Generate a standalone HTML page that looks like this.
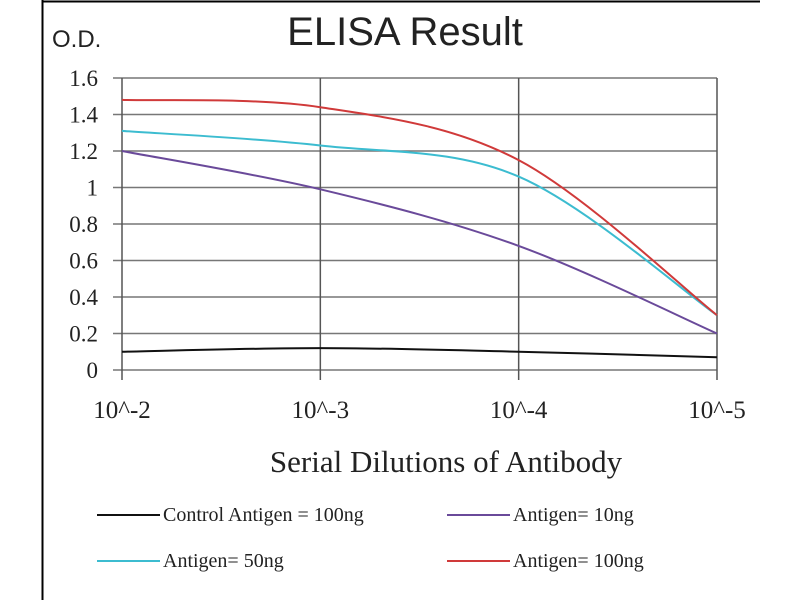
<!DOCTYPE html>
<html><head><meta charset="utf-8"><style>body{margin:0;background:#fff}svg{display:block}</style></head>
<body>
<svg id="chart" width="800" height="600" xmlns="http://www.w3.org/2000/svg">
<rect width="800" height="600" fill="#fff"/>
<line x1="42.5" y1="0" x2="42.5" y2="600" stroke="#000" stroke-width="2"/>
<line x1="42" y1="1.5" x2="760" y2="1.5" stroke="#000" stroke-width="2"/>
<text x="52" y="47" font-family="Liberation Sans, sans-serif" font-size="24" fill="#222">O.D.</text>
<text x="405" y="45" text-anchor="middle" font-family="Liberation Sans, sans-serif" font-size="40" fill="#222">ELISA Result</text>
<g id="grid"></g><g id="series"></g>
<text x="446" y="472" text-anchor="middle" font-family="Liberation Serif, serif" font-size="31" fill="#222">Serial Dilutions  of Antibody</text>
<g id="legend" font-family="Liberation Serif, serif" font-size="20" fill="#222"></g>
</svg>
<script>
const categories=["10^-2","10^-3","10^-4","10^-5"];
const yTicks=[0,0.2,0.4,0.6,0.8,1,1.2,1.4,1.6];
const yTickLabels=["0","0.2","0.4","0.6","0.8","1","1.2","1.4","1.6"];
const seriesNames=["Control Antigen = 100ng","Antigen= 10ng","Antigen= 50ng","Antigen= 100ng"];
const seriesColors=["#111","#6a4a9a","#3cbcd0","#d03a3a"];
const control=[0.10,0.12,0.10,0.07];
const ag10=[1.20,0.99,0.68,0.20];
const ag50=[1.31,1.23,1.06,0.30];
const ag100=[1.48,1.44,1.15,0.30];
const NS="http://www.w3.org/2000/svg";
const x0=122,x1=717,y0=370,y1=78;
const xs=i=>x0+i*(x1-x0)/(categories.length-1);
const ys=v=>y0-(v/1.6)*(y0-y1);
function mk(t,a,p){const e=document.createElementNS(NS,t);for(const k in a)e.setAttribute(k,a[k]);p.appendChild(e);return e;}
const g=document.getElementById('grid');
yTicks.forEach((v,i)=>{const l=mk('line',{x1:113,x2:x1,y1:ys(v),y2:ys(v),stroke:'#777','stroke-width':1.5},g);


const t=mk('text',{x:98,y:ys(v)+8,'text-anchor':'end','font-family':'Liberation Serif, serif','font-size':23,fill:'#222'},g);t.textContent=yTickLabels[i];

});
categories.forEach((c,i)=>{const l=mk('line',{x1:xs(i),x2:xs(i),y1:y1,y2:y0+10,stroke:'#555','stroke-width':1.5},g);


const t=mk('text',{x:xs(i),y:y0+48,'text-anchor':'middle','font-family':'Liberation Serif, serif','font-size':25,fill:'#222'},g);t.textContent=c;

});
function path(vals){const p=vals.map((v,i)=>[xs(i),ys(v)]);let d='M'+p[0];for(let i=0;i<p.length-1;i++){const a=p[i-1]||p[i],b=p[i],c=p[i+1],e=p[i+2]||c;
d+=` C${b[0]+(c[0]-a[0])/6},${b[1]+(c[1]-a[1])/6} ${c[0]-(e[0]-b[0])/6},${c[1]-(e[1]-b[1])/6} ${c[0]},${c[1]}`;}return d;}
const s=document.getElementById('series');
[control,ag10,ag50,ag100].forEach((vals,k)=>{const p=mk('path',{d:path(vals),fill:'none',stroke:seriesColors[k],'stroke-width':2},s);

});
const lg=document.getElementById('legend');
const pos=[[97,515],[447,515],[97,561],[447,561]];
[0,1,2,3].forEach(k=>{const [lx,ly]=pos[k];const l=mk('line',{x1:lx,x2:lx+63,y1:ly,y2:ly,stroke:seriesColors[k],'stroke-width':2},lg);


const t=mk('text',{x:lx+66,y:ly+6},lg);t.textContent=seriesNames[k];

});
</script>
</body></html>
